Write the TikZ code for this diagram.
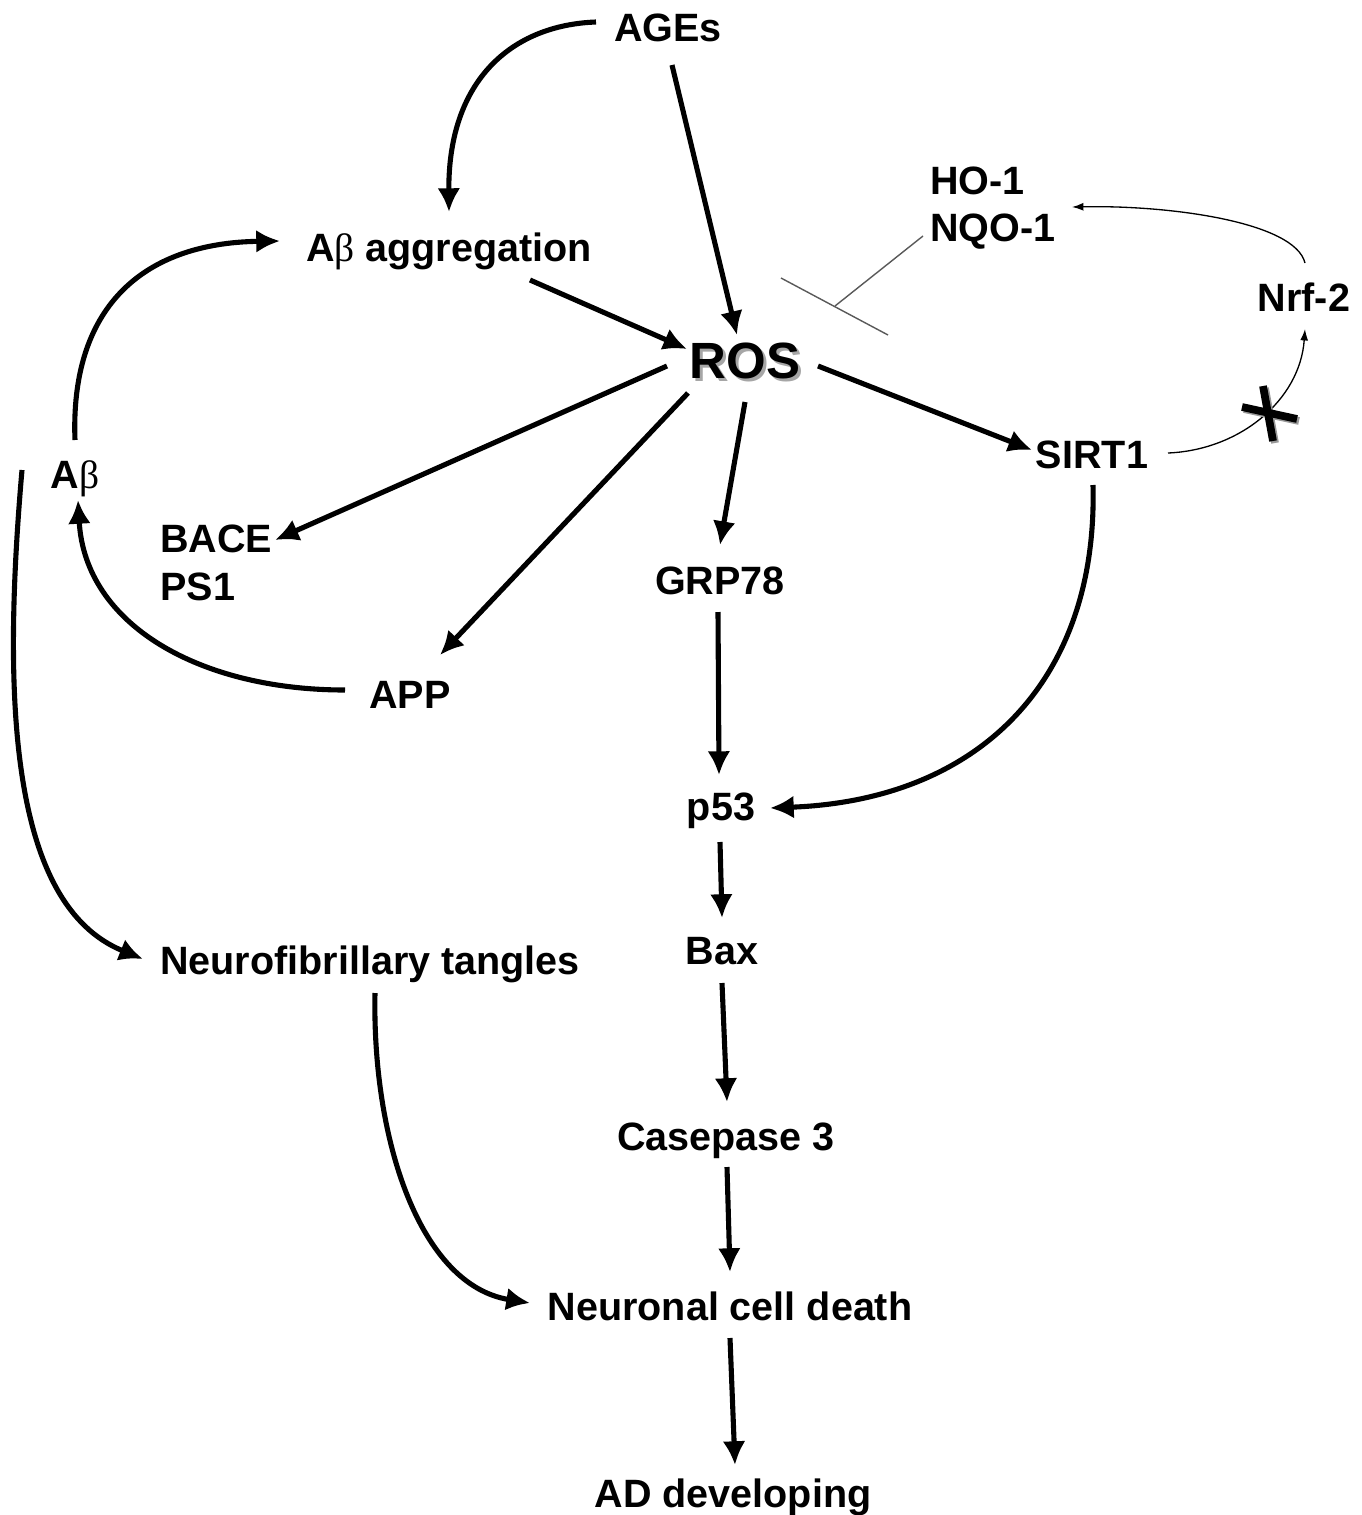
\documentclass[tikz,border=0pt]{standalone}
\usepackage{fontspec}
\setmainfont{Liberation Sans}
\newfontfamily\betaf{Liberation Serif}
\usetikzlibrary{arrows.meta,calc}
\newcommand{\Abeta}{A{\betaf\mdseries β}}
\begin{document}
\begin{tikzpicture}[x=0.02cm,y=-0.02cm,
  lbl/.style={inner sep=0pt, font=\fontsize{22.5}{26.6}\selectfont\bfseries, text height=16pt, text depth=0pt},
  lbltwo/.style={inner sep=0pt, font=\fontsize{22.5}{27}\selectfont\bfseries, align=left, anchor=west},
  arr/.style={line width=2.9pt, -{Latex[length=13.5pt,width=13pt]}},
  thinarr/.style={line width=0.75pt, -{Latex[length=6.5pt,width=4.5pt]}},
  inhib/.style={line width=0.8pt, draw=black!65}]
\useasboundingbox (0,0) rectangle (1362,1515);

% nodes
\node[lbl] (ages) at (668,27) {AGEs};
\node[lbl] (agg) at (449,247) {\Abeta\ aggregation};
\node[lbl, font=\fontsize{29}{34}\selectfont\bfseries, text height=20.8pt, text=black!35] (rosshadow) at (748,363) {ROS};
\node[lbl, font=\fontsize{29}{34}\selectfont\bfseries, text height=20.8pt] (ros) at (745,360) {ROS};
\node[lbltwo] (ho) at (930,208) {HO-1\\NQO-1};
\node[lbl] (nrf) at (1304,297) {Nrf-2};
\node[lbl] (sirt) at (1092,454) {SIRT1};
\node[lbl] (ab) at (75,474) {\Abeta};
\node[lbltwo] (bace) at (160,563) {BACE\\PS1};
\node[lbl] (grp) at (720,580) {GRP78};
\node[lbl] (app) at (410,694) {APP};
\node[lbl] (p53) at (721,806) {p53};
\node[lbl] (nft) at (370,960) {Neurofibrillary tangles};
\node[lbl] (bax) at (722,950) {Bax};
\node[lbl] (casp) at (726,1136) {Casepase 3};
\node[lbl] (death) at (730,1306) {Neuronal cell death};
\node[lbl] (ad) at (733,1493) {AD developing};

% thick arrows
\draw[arr] ($(ages)+(-72,-5)$) .. controls (512,25) and (448,80) .. ($(agg)+(0,-35)$);
\draw[arr] ($(ages)+(4,38)$) -- ($(ros)+(-8,-25)$);
\draw[arr] ($(agg)+(81,33)$) -- ($(ros)+(-58,-11)$);
\draw[arr] ($(ros)+(73,6)$) -- ($(sirt)+(-60,-4)$);
\draw[arr] ($(ros)+(-78,6)$) -- ($(bace.west)+(115,-23)$);
\draw[arr] ($(ros)+(-57,33)$) -- ($(app)+(30,-39)$);
\draw[arr] ($(ros)+(0,42)$) -- ($(grp)+(0,-35)$);
\draw[arr] ($(grp)+(-2,32)$) -- ($(p53)+(-2,-31)$);
\draw[arr] ($(sirt)+(1,31)$) .. controls (1098,680) and (980,800) .. ($(p53)+(49,2)$);
\draw[arr] ($(p53)+(-1,36)$) -- ($(bax)+(0,-32)$);
\draw[arr] ($(bax)+(0,33)$) -- ($(casp)+(1,-34)$);
\draw[arr] ($(casp)+(1,31)$) -- ($(death)+(0,-34)$);
\draw[arr] ($(death)+(0,32)$) -- ($(ad)+(2,-28)$);
\draw[arr] ($(nft)+(5,33)$) .. controls (372,1140) and (420,1285) .. ($(death)+(-200,-3)$);
\draw[arr] ($(app)+(-65,-4)$) .. controls (200,690) and (85,625) .. ($(ab)+(3,26)$);
\draw[arr] ($(ab)+(0,-34)$) .. controls (70,310) and (140,243) .. ($(agg)+(-169,-6)$);
\draw[arr] ($(ab)+(-53,-4)$) .. controls (2,700) and (10,905) .. ($(nft)+(-227,-1)$);

% thin arrows
\draw[thinarr] ($(sirt)+(76,-1)$) .. controls (1240,450) and (1300,400) .. ($(nrf)+(1,32)$);
\draw[thinarr] ($(nrf)+(1,-34)$) .. controls (1295,222) and (1170,205) .. ($(ho.west)+(142,-1)$);

% inhibition
\coordinate (bar) at (835,306);
\draw[inhib] ($(ho.west)+(-7,28)$) -- (bar);
\draw[inhib] ($(bar)+(-54,-28)$) -- ($(bar)+(53,29)$);

% X mark on SIRT1 -> Nrf-2
\coordinate (xm) at (1268,414);
\begin{scope}[line width=4.4pt, line cap=butt]
  \draw[black!40] ($(xm)+(-24,-5)$) -- ($(xm)+(31,7)$);
  \draw[black!40] ($(xm)+(-3,-26)$) -- ($(xm)+(7,29)$);
  \draw[black] ($(xm)+(-26,-7)$) -- ($(xm)+(29,5)$);
  \draw[black] ($(xm)+(-5,-28)$) -- ($(xm)+(5,27)$);
\end{scope}
\end{tikzpicture}
\end{document}
